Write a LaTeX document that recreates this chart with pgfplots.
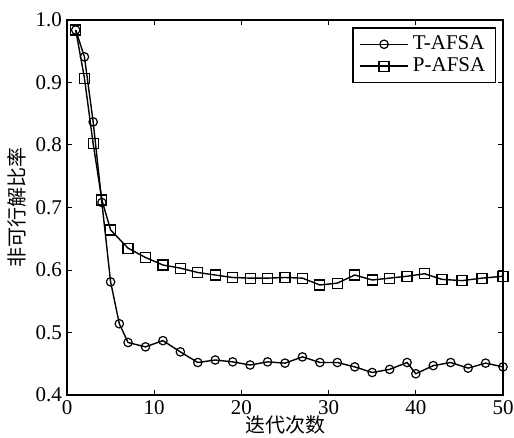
\documentclass[border=0pt]{standalone}
\usepackage{fontspec}
\setmainfont{Liberation Serif}
\newfontfamily\cjk{Noto Sans CJK SC}
\usepackage{pgfplots}
\pgfplotsset{compat=1.18}
\begin{document}
\begin{tikzpicture}
\begin{axis}[
  name=ax,
  scale only axis,
  width=218pt, height=187.5pt,
  xmin=0, xmax=50, ymin=0.4, ymax=1.0,
  xtick={0,10,20,30,40,50},
  ytick={0.4,0.5,0.6,0.7,0.8,0.9,1.0},
  yticklabel style={xshift=1pt, /pgf/number format/.cd,fixed,fixed zerofill,precision=1},
  /pgf/number format/assume math mode=true,
  tick align=inside,
  major tick length=2.5pt,
  tick style={black, line width=0.5pt},
  axis line style={line width=0.9pt},
  font=\fontsize{10.5}{11}\selectfont,
  xticklabel style={yshift=1pt},
  xlabel={\cjk\fontsize{10}{11}\selectfont 迭代次数},
  ylabel={\cjk\fontsize{10}{11}\selectfont 非可行解比率},
  xlabel style={yshift=6pt},
  ylabel style={yshift=-2pt},
  legend style={at={(rel axis cs:0.984,0.981)}, anchor=north east, draw=black, line width=0.7pt, font=\fontsize{10.5}{11}\selectfont, inner xsep=3pt, inner ysep=2pt, row sep=-1.5pt, legend cell align=left},
  legend image code/.code={\draw[#1] (0cm,0cm) -- (0.85cm,0cm); \draw[#1, mark repeat=2, mark phase=2] plot coordinates {(0cm,0cm) (0.425cm,0cm) (0.85cm,0cm)};},
]
\addplot[black, line width=0.7pt, mark=o, mark size=2.1pt, mark options={fill=white, solid, line width=0.6pt}] coordinates {
(1,0.984)(2,0.941)(3,0.837)(4,0.708)(5,0.581)(6,0.514)(7,0.484)(9,0.477)(11,0.487)(13,0.469)(15,0.452)(17,0.456)(19,0.453)(21,0.448)(23,0.453)(25,0.451)(27,0.461)(29,0.452)(31,0.452)(33,0.445)(35,0.436)(37,0.441)(39,0.452)(40,0.434)(42,0.447)(44,0.452)(46,0.443)(48,0.451)(50,0.445)
};
\addlegendentry{T-AFSA}
\addplot[black, line width=0.7pt, mark=square, mark size=2.5pt, mark options={fill=white, solid, line width=0.6pt}] coordinates {
(1,0.984)(2,0.907)(3,0.802)(4,0.712)(5,0.664)(7,0.635)(9,0.620)(11,0.608)(13,0.603)(15,0.596)(17,0.592)(19,0.588)(21,0.587)(23,0.587)(25,0.588)(27,0.587)(29,0.576)(31,0.579)(33,0.592)(35,0.584)(37,0.587)(39,0.590)(41,0.594)(43,0.585)(45.3,0.583)(47.6,0.587)(50,0.590)
};
\addlegendentry{P-AFSA}
\end{axis}
\pgfresetboundingbox
\path ([shift={(-33.5pt,-21pt)}]ax.south west) rectangle ([shift={(5.5pt,10pt)}]ax.north east);
\end{tikzpicture}
\end{document}
